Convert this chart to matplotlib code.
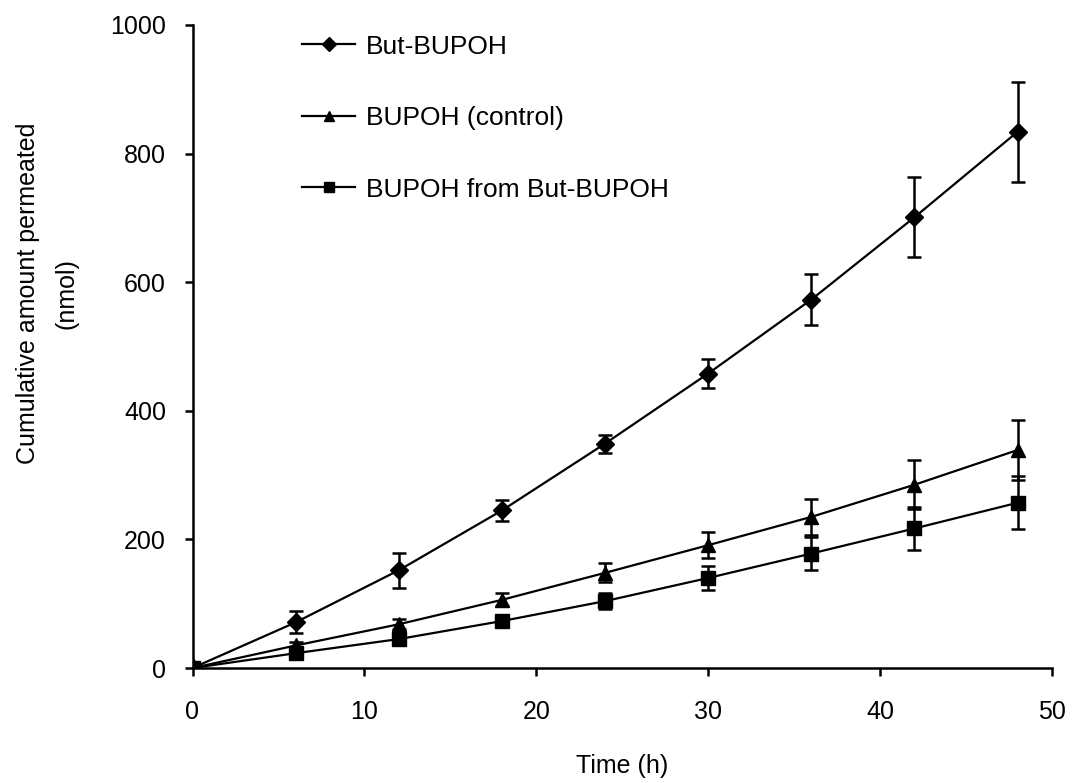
import matplotlib
matplotlib.use("Agg")
import matplotlib.pyplot as plt
import numpy as np

plt.rcParams["font.family"] = ["Liberation Sans", "DejaVu Sans"]

# Data
time_h = [0, 6, 12, 18, 24, 30, 36, 42, 48]

but_bupoh = [0, 71, 152, 245, 349, 458, 573, 701, 834]
but_bupoh_err = [0, 17, 27, 17, 14, 22, 40, 62, 78]

bupoh_control = [0, 35, 68, 106, 148, 191, 235, 285, 339]
bupoh_control_err = [0, 6, 8, 10, 15, 20, 28, 38, 46]

bupoh_from_but = [0, 23, 45, 73, 104, 140, 178, 217, 257]
bupoh_from_but_err = [0, 5, 8, 7, 12, 18, 26, 34, 41]

labels = ["But-BUPOH", "BUPOH (control)", "BUPOH from But-BUPOH"]

# Plot
fig = plt.figure(figsize=(10.74, 7.83), dpi=100)
ax = fig.add_axes([192.5 / 1074, 1 - 668 / 783, 859.5 / 1074, 643 / 783])

series = [
    (but_bupoh, but_bupoh_err, "D", 9),
    (bupoh_control, bupoh_control_err, "^", 10),
    (bupoh_from_but, bupoh_from_but_err, "s", 10),
]
for (vals, errs, mk, ms), lab in zip(series, labels):
    ax.errorbar(time_h, vals, yerr=errs, color="black", marker=mk, ms=ms,
                lw=1.6, elinewidth=1.8, capsize=5, capthick=1.8, label=lab)

ax.set_xlim(0, 50)
ax.set_ylim(0, 1000)
ax.set_xticks([0, 10, 20, 30, 40, 50])
ax.set_yticks([0, 200, 400, 600, 800, 1000])
for side in ["top", "right"]:
    ax.spines[side].set_visible(False)
for side in ["left", "bottom"]:
    ax.spines[side].set_linewidth(1.8)
ax.tick_params(direction="out", length=6, width=1.8, labelsize=18)
ax.tick_params(axis="x", pad=17)
ax.tick_params(axis="y", pad=13)

ax.set_xlabel("Time (h)", fontsize=18, labelpad=22)
ax.set_ylabel("Cumulative amount permeated\n(nmol)", fontsize=18,
              linespacing=1.75)
ax.yaxis.set_label_coords(-0.133, 0.583)

handles, labs = ax.get_legend_handles_labels()
handles = [h[0] for h in handles]
leg = ax.legend(handles, labs, loc="upper left", bbox_to_anchor=(0.1, 1.022),
                frameon=False, fontsize=19, labelspacing=1.8,
                handlelength=2.0, handletextpad=0.4, markerscale=0.75)

fig.savefig("out.png", dpi=100)
